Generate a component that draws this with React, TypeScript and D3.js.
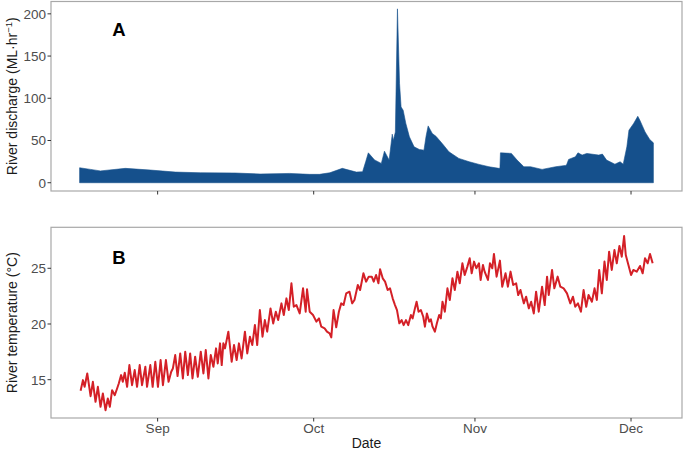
import * as d3 from 'd3'

// day 0 = 17 Aug (UTC)
const START = Date.UTC(2019, 7, 17)
const DAY_MS = 86400000

const dischargeDays = [
  0, 2.1, 4.0, 8.8, 13.6, 18.4, 23.2, 29.9, 34.7, 40.4, 44.2, 46.1, 48.1, 50.5, 53.2, 54.4,
  55.0, 55.5, 56.7, 58.0, 58.6, 59.5, 60.1, 60.3, 60.7, 61.1, 61.5, 61.8, 62.2, 62.7, 63.4,
  64.3, 65.3, 66.2, 66.6, 67.0, 67.8, 68.5, 69.7, 71.0, 72.9, 74.9, 76.8, 78.7, 80.6, 80.8,
  80.9, 83.0, 84.1, 85.4, 86.7, 88.9, 91.5, 93.4, 93.6, 94.0, 95.3, 95.8, 96.6, 97.5, 99.8,
  100.5, 101.3, 102.9, 103.9, 104.5, 105.2, 105.6, 106.5, 107.3, 107.7, 108.7, 109.6, 110.3,
]
const dischargeValues = [
  17.7, 15.8, 14, 17, 15, 12.6, 11.8, 11.5, 10.3, 11, 9.9, 9.9, 11.8, 17, 12.6, 13,
  25, 35.4, 27, 22.9, 37.4, 26.8, 57.5, 50, 60, 205.9, 117.7, 89.7, 85.8, 70.5, 54.3,
  42.5, 39.4, 38.6, 55, 67.3, 58.3, 55, 46.5, 36.6, 28.8, 24.8, 21.7, 18.9, 17, 17,
  35.4, 34.7, 26.8, 18.9, 18.9, 15.8, 18.9, 20.5, 21, 27.6, 30.7, 35.4, 32.7, 34.7, 32.7,
  33.9, 26.8, 22, 24.8, 22, 42.5, 62.2, 70.1, 78.7, 74, 60.2, 51.2, 47.2,
]

const tempDays = [
  0.19, 0.64, 0.96, 1.47, 2.11, 2.55, 3.06, 3.51, 4.02, 4.47, 4.98, 5.42, 5.81, 6.25, 6.76,
  7.21, 7.53, 7.98, 8.3, 8.68, 9.13, 9.57, 10.08, 10.59, 11.04, 11.55, 12.0, 12.64, 12.96,
  13.59, 14.04, 14.55, 15.06, 15.57, 16.02, 16.59, 17.1, 17.61, 17.93, 18.38, 18.83, 19.34,
  19.85, 20.3, 20.81, 21.25, 21.7, 22.21, 22.72, 23.29, 23.8, 24.25, 24.76, 25.21, 25.72,
  26.23, 26.55, 27.0, 27.32, 27.63, 27.95, 28.59, 29.23, 29.68, 30.19, 30.63, 31.14, 31.78,
  32.23, 32.74, 33.19, 33.7, 34.14, 34.65, 35.16, 35.61, 36.06, 36.7, 37.21, 37.72, 38.17,
  38.8, 39.25, 39.76, 40.21, 40.72, 41.17, 41.68, 42.31, 42.95, 43.46, 43.72, 44.23, 44.87,
  45.51, 46.02, 46.46, 47.1, 47.55, 48.06, 48.38, 48.82, 49.33, 49.84, 50.29, 50.74, 51.25,
  51.88, 52.39, 52.84, 53.48, 53.92, 54.56, 55.07, 55.58, 56.16, 56.54, 56.99, 57.44, 57.76,
  58.27, 58.72, 59.22, 59.67, 60.18, 60.63, 61.01, 61.46, 61.91, 62.29, 62.74, 63.18, 63.69,
  64.01, 64.46, 64.78, 65.16, 65.61, 66.06, 66.38, 66.76, 67.21, 67.53, 67.85, 68.29, 68.68,
  69.12, 69.44, 69.76, 70.21, 70.71, 71.16, 71.67, 72.12, 72.63, 73.07, 73.58, 74.03, 74.54,
  74.99, 75.37, 75.82, 76.26, 76.77, 77.09, 77.54, 77.86, 78.5, 78.88, 79.33, 79.65, 80.16,
  80.8, 81.24, 81.88, 82.33, 82.84, 83.35, 83.92, 84.31, 84.75, 85.39, 85.84, 86.35, 86.8,
  87.31, 87.75, 88.26, 88.9, 89.41, 89.86, 90.18, 90.82, 91.26, 91.9, 92.41, 93.05, 93.69,
  94.33, 94.84, 95.28, 95.8, 96.37, 96.88, 97.39, 97.84, 98.48, 98.99, 99.43, 99.88, 100.39,
  100.9, 101.34, 101.79, 102.3, 102.81, 103.26, 103.77, 104.22, 104.67, 104.99, 105.5, 106.01,
  106.45, 107.09, 107.73, 108.24, 108.69, 109.2, 109.65, 110.16,
]
const tempValues = [
  14.0, 14.96, 14.36, 15.56, 13.52, 14.81, 13.01, 14.36, 12.56, 13.76, 12.26, 13.31, 12.56, 14.06, 13.61,
  14.21, 14.66, 15.41, 14.81, 15.62, 14.36, 16.31, 14.51, 15.86, 14.36, 16.31, 14.51, 16.16, 14.36,
  16.31, 14.36, 16.61, 14.36, 16.76, 14.51, 16.76, 14.81, 15.71, 16.01, 17.21, 15.32, 17.36,
  15.11, 17.51, 15.41, 17.36, 15.11, 17.06, 15.26, 17.51, 15.56, 17.66, 15.11, 17.21, 16.16,
  17.81, 16.46, 18.26, 16.31, 18.26, 17.81, 19.31, 16.61, 18.11, 16.76, 18.26, 16.91, 19.31,
  17.36, 18.86, 18.11, 19.91, 18.11, 21.25, 18.86, 20.35, 19.31, 21.4, 20.05, 21.1, 20.35,
  21.85, 20.8, 22.3, 21.25, 23.65, 21.55, 21.7, 20.95, 23.2, 21.1, 23.11, 21.1, 20.8,
  20.21, 20.5, 19.76, 19.61, 19.31, 19.16, 18.8, 21.25, 19.7, 21.1, 21.85, 21.7, 22.75,
  22.9, 21.85, 22.15, 23.5, 23.05, 24.55, 23.8, 24.25, 24.25, 23.8, 24.4, 23.65, 24.91,
  24.1, 23.8, 23.05, 23.2, 22.3, 21.7, 21.25, 20.06, 20.35, 19.9, 20.35, 19.9, 20.8,
  20.5, 21.4, 22.0, 21.1, 21.25, 20.65, 19.76, 20.95, 20.21, 20.41, 19.76, 19.31, 20.06,
  20.8, 20.5, 22.0, 21.1, 23.2, 22.15, 24.1, 23.05, 24.7, 23.65, 25.45, 24.4, 25.15,
  25.9, 24.55, 25.6, 25.0, 25.45, 23.95, 25.3, 24.7, 23.95, 25.45, 25.0, 26.29, 24.25,
  25.69, 23.35, 24.55, 23.35, 24.7, 23.5, 23.65, 22.6, 23.05, 21.85, 22.45, 21.4, 22.0,
  20.95, 22.9, 21.1, 23.35, 21.7, 24.25, 22.6, 24.85, 23.2, 24.25, 23.35, 23.2, 22.75,
  21.85, 22.45, 21.55, 21.85, 21.1, 23.05, 21.55, 22.6, 22.0, 23.2, 22.15, 24.85, 22.75,
  25.6, 23.95, 26.49, 24.85, 26.64, 25.45, 27.0, 26.04, 27.9, 26.19, 25.3, 24.4,
  24.85, 24.7, 25.21, 24.55, 25.9, 25.45, 26.29, 25.45,
]

const dischargeTicks = [0, 50, 100, 150, 200]
const tempTicks = [15, 20, 25]
const monthTicks = [Date.UTC(2019, 8, 1), Date.UTC(2019, 9, 1), Date.UTC(2019, 10, 1), Date.UTC(2019, 11, 1)]

const W = 685
const H = 450
const left = 51
const right = 682
const panelA = { top: 1.5, bottom: 191 }
const panelB = { top: 227.3, bottom: 418 }
const font = '"Liberation Sans", Arial, sans-serif'
const tickColor = '#4d4d4d'
const borderColor = '#a8a8a8'

const toDate = (d: number) => new Date(START + d * DAY_MS)

export default function App() {
  const x = d3.scaleUtc()
    .domain([toDate(-5.5), toDate(115.8)])
    .range([left, right])

  const yA = d3.scaleLinear().domain([-9.8, 214.6]).range([panelA.bottom, panelA.top])
  const yB = d3.scaleLinear().domain([11.56, 28.68]).range([panelB.bottom, panelB.top])

  const dischargeData = dischargeDays.map((d, i) => ({ t: toDate(d), v: dischargeValues[i] }))
  const tempData = tempDays.map((d, i) => ({ t: toDate(d), v: tempValues[i] }))

  const area = d3.area<{ t: Date; v: number }>()
    .x(d => x(d.t))
    .y0(yA(0))
    .y1(d => yA(d.v))

  const line = d3.line<{ t: Date; v: number }>()
    .x(d => x(d.t))
    .y(d => yB(d.v))

  const monthFmt = d3.utcFormat('%b')

  const xTicks = (bottom: number, labels: boolean) => (
    <g>
      {monthTicks.map(m => (
        <g key={m} transform={`translate(${x(new Date(m))},${bottom})`}>
          <line y1={0} y2={3.5} stroke="#333" strokeWidth={1} />
          {labels && (
            <text y={15} textAnchor="middle" fontSize={13.5} fill={tickColor} fontFamily={font}>
              {monthFmt(new Date(m))}
            </text>
          )}
        </g>
      ))}
    </g>
  )

  const yTicks = (ticks: number[], scale: d3.ScaleLinear<number, number>) => (
    <g>
      {ticks.map(t => (
        <g key={t} transform={`translate(${left},${scale(t)})`}>
          <line x1={-3.5} x2={0} stroke="#333" strokeWidth={1} />
          <text x={-5} dy="0.36em" textAnchor="end" fontSize={13.5} fill={tickColor} fontFamily={font}>
            {t}
          </text>
        </g>
      ))}
    </g>
  )

  const midA = (panelA.top + panelA.bottom) / 2
  const midB = (panelB.top + panelB.bottom) / 2

  return (
    <svg width={W} height={H} style={{ position: 'absolute', left: 0, top: 0, background: '#fff' }}>
      {/* panel A */}
      <path d={area(dischargeData) ?? ''} fill="#15508c" stroke="#15508c" strokeWidth={0.6} />
      <rect x={left} y={panelA.top} width={right - left} height={panelA.bottom - panelA.top}
        fill="none" stroke={borderColor} strokeWidth={1.2} />
      {yTicks(dischargeTicks, yA)}
      {xTicks(panelA.bottom, false)}
      <text x={119} y={36} textAnchor="middle" fontSize={18.5} fontWeight="bold" fontFamily={font}>A</text>
      <text transform={`translate(17,${midA}) rotate(-90)`} textAnchor="middle" fontSize={14} fontFamily={font} fill="#1a1a1a">
        River discharge (ML·hr<tspan dy={-5} fontSize={9.5}>−1</tspan><tspan dy={5}>)</tspan>
      </text>

      {/* panel B */}
      <path d={line(tempData) ?? ''} fill="none" stroke="#d42027" strokeWidth={2} strokeLinejoin="round" />
      <rect x={left} y={panelB.top} width={right - left} height={panelB.bottom - panelB.top}
        fill="none" stroke={borderColor} strokeWidth={1.2} />
      {yTicks(tempTicks, yB)}
      {xTicks(panelB.bottom, true)}
      <text x={119} y={263.5} textAnchor="middle" fontSize={18.5} fontWeight="bold" fontFamily={font}>B</text>
      <text transform={`translate(17,${midB}) rotate(-90)`} textAnchor="middle" fontSize={14} fontFamily={font} fill="#1a1a1a">
        River temperature (°C)
      </text>

      <text x={(left + right) / 2} y={448} textAnchor="middle" fontSize={14} fontFamily={font} fill="#1a1a1a">Date</text>
    </svg>
  )
}
